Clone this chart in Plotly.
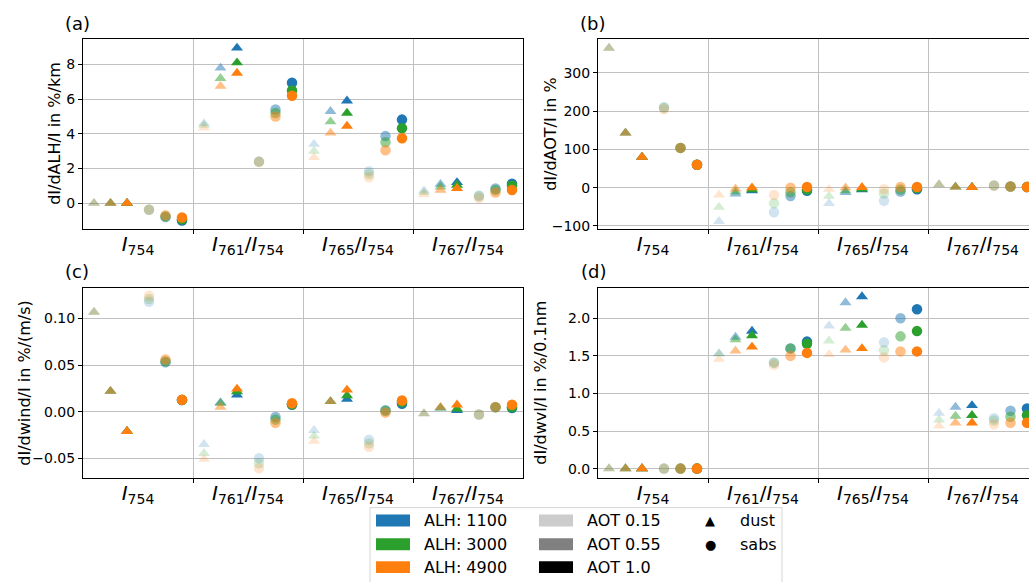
import plotly.graph_objects as go

# ---------------- data ----------------
groups = ["I754", "I761/I754", "I765/I754", "I767/I754"]
group_labels = ["<i>I</i><sub>754</sub>",
                "<i>I</i><sub>761</sub>/<i>I</i><sub>754</sub>",
                "<i>I</i><sub>765</sub>/<i>I</i><sub>754</sub>",
                "<i>I</i><sub>767</sub>/<i>I</i><sub>754</sub>"]
aerosol_types = ["dust", "dust", "dust", "sabs", "sabs", "sabs"]
aot_values = [0.15, 0.55, 1.0, 0.15, 0.55, 1.0]
alh_values = [1100, 3000, 4900]

# each list: per group -> [dust AOT .15, .55, 1.0, sabs AOT .15, .55, 1.0]
a_1100 = [0.0, 0.0, 0.0, -0.38, -0.80, -1.00,
          4.6, 7.8, 8.95, 2.4, 5.4, 6.95,
          3.4, 5.3, 5.9, 1.85, 3.87, 4.82,
          0.72, 1.1, 1.2, 0.45, 0.85, 1.12]
a_3000 = [0.0, 0.0, 0.0, -0.38, -0.76, -0.92,
          4.5, 7.2, 8.1, 2.4, 5.2, 6.5,
          3.0, 4.7, 5.2, 1.68, 3.52, 4.32,
          0.62, 0.95, 1.05, 0.4, 0.76, 1.01]
a_4900 = [0.0, 0.0, 0.0, -0.36, -0.70, -0.82,
          4.35, 6.75, 7.5, 2.38, 5.0, 6.2,
          2.65, 4.05, 4.45, 1.5, 3.05, 3.75,
          0.5, 0.76, 0.86, 0.3, 0.62, 0.76]

b_1100 = [365, 143, 80, 210, 104, 60,
          -88, -16, -8, -64, -22, -8,
          -41, -12, -5, -34, -10, -4,
          8, 2, 1, 6, 3, 2]
b_3000 = [365, 143, 80, 209, 104, 60,
          -51, -10, -5, -41, -12, -5,
          -22, -8, -3, -15, -5, -1,
          8, 2, 1, 6, 3, 2]
b_4900 = [365, 143, 80, 205, 104, 60,
          -19, -3, 0, -19, 0, 2,
          -4, 0, 1, -4, 2, 2,
          8, 2, 1, 5, 3, 2]

c_1100 = [0.107, 0.022, -0.021, 0.118, 0.053, 0.0125,
          -0.035, 0.010, 0.018, -0.050, -0.0057, 0.0075,
          -0.020, 0.011, 0.0134, -0.030, 0.0015, 0.0085,
          -0.002, 0.004, 0.0014, -0.003, 0.0048, 0.004]
c_3000 = [0.107, 0.022, -0.021, 0.121, 0.054, 0.0127,
          -0.0447, 0.009, 0.0216, -0.0553, -0.0085, 0.008,
          -0.026, 0.011, 0.0173, -0.034, 0.001, 0.0105,
          -0.002, 0.004, 0.003, -0.003, 0.0049, 0.005]
c_4900 = [0.107, 0.022, -0.021, 0.1245, 0.056, 0.0128,
          -0.051, 0.005, 0.0245, -0.0606, -0.012, 0.009,
          -0.0316, 0.011, 0.0234, -0.0376, -0.001, 0.012,
          -0.002, 0.005, 0.0074, -0.003, 0.005, 0.0074]

d_1100 = [0, 0, 0, 0, 0, 0,
          1.53, 1.75, 1.83, 1.41, 1.60, 1.69,
          1.90, 2.21, 2.29, 1.68, 2.00, 2.12,
          0.74, 0.82, 0.84, 0.67, 0.77, 0.80]
d_3000 = [0, 0, 0, 0, 0, 0,
          1.53, 1.715, 1.77, 1.41, 1.60, 1.66,
          1.70, 1.87, 1.91, 1.575, 1.76, 1.83,
          0.65, 0.70, 0.71, 0.64, 0.69, 0.71]
d_4900 = [0, 0, 0, 0, 0, 0,
          1.456, 1.566, 1.62, 1.38, 1.50, 1.54,
          1.52, 1.58, 1.60, 1.48, 1.56, 1.56,
          0.57, 0.61, 0.61, 0.59, 0.61, 0.61]

panel_data = {
    "a": [a_1100, a_3000, a_4900],
    "b": [b_1100, b_3000, b_4900],
    "c": [c_1100, c_3000, c_4900],
    "d": [d_1100, d_3000, d_4900],
}
y_titles = {"a": "dI/dALH/I in %/km", "b": "dI/dAOT/I in %",
            "c": "dI/dwind/I in %/(m/s)", "d": "dI/dwvl/I in %/0.1nm"}

# ---------------- style ----------------
W, H = 1029, 582
alh_colors = ["31,119,180", "44,160,44", "255,127,14"]
aot_alpha = {0.15: 0.2, 0.55: 0.5, 1.0: 1.0}
offsets = [0.1, 0.25, 0.4, 0.6, 0.75, 0.9]
FONT = "DejaVu Sans"
GRID = "#c0c0c0"

def px_x(p):
    return p / W

def px_y(p):
    return 1 - p / H

# panel boxes in pixels: (left, right, top, bottom)
boxes = {"a": (83, 523, 39, 231), "b": (598, 1029, 39, 231),
         "c": (83, 523, 290, 482), "d": (598, 1029, 290, 482)}
yranges = {"a": [-1.486, 9.486], "b": [-108, 389.4],
           "c": [-0.071, 0.1333], "d": [-0.123, 2.41]}
ydticks = {"a": 2, "b": 100, "c": 0.05, "d": 0.5}
yfmt = {"a": "d", "b": "d", "c": ".2f", "d": ".1f"}
axis_ids = {"a": ("x", "y"), "b": ("x2", "y2"), "c": ("x3", "y3"), "d": ("x4", "y4")}

fig = go.Figure()
layout = dict(width=W, height=H, margin=dict(l=0, r=0, t=0, b=0),
              paper_bgcolor="white", plot_bgcolor="white", showlegend=False,
              font=dict(family=FONT, color="black", size=14))

for key in ["a", "b", "c", "d"]:
    xa, ya = axis_ids[key]
    for ci, vals in enumerate(panel_data[key]):
        xs, cols, syms = [], [], []
        for g in range(len(groups)):
            for k in range(6):
                xs.append(g + offsets[k])
                cols.append("rgba(%s,%.2f)" % (alh_colors[ci], aot_alpha[aot_values[k]]))
                syms.append("triangle-up" if aerosol_types[k] == "dust" else "circle")
        fig.add_trace(go.Scatter(
            x=xs, y=vals, mode="markers", xaxis=xa, yaxis=ya,
            marker=dict(color=cols, symbol=syms, size=10.5, line=dict(width=0)),
            hoverinfo="skip"))

    l, r, t, b = boxes[key]
    xname = "xaxis" if xa == "x" else "xaxis" + xa[1:]
    yname = "yaxis" if ya == "y" else "yaxis" + ya[1:]
    xmax = (r - l) / 110.0
    full = key in ("a", "c")
    layout[xname] = dict(
        domain=[px_x(l), px_x(r)], range=[0, xmax], anchor=ya,
        tickmode="array", tickvals=[g + 0.5 for g in range(4)], ticktext=group_labels,
        ticks="", showgrid=False, zeroline=False, ticklabelstandoff=-3,
        tickfont=dict(size=20, family=FONT, color="black"),
        showline=True, linecolor="black", linewidth=1, mirror=True,
        minor=dict(tickmode="array", tickvals=[1, 2, 3], ticks="outside", ticklen=4,
                   tickcolor="black", showgrid=True, gridcolor=GRID, gridwidth=1),
    )
    layout[yname] = dict(
        domain=[px_y(b), px_y(t)], range=yranges[key], anchor=xa,
        dtick=ydticks[key], tick0=0, tickformat=yfmt[key],
        ticks="outside", ticklen=4, tickcolor="black",
        showgrid=True, gridcolor=GRID, gridwidth=1, zeroline=False,
        showline=True, linecolor="black", linewidth=1, mirror=full,
        tickfont=dict(size=14, family=FONT, color="black"),
    )

annotations = []
# panel labels
for key, (xp, yp) in {"a": (77, 24), "b": (592, 24), "c": (77, 274), "d": (593, 274)}.items():
    annotations.append(dict(x=px_x(xp), y=px_y(yp), xref="paper", yref="paper",
                            text="(%s)" % key, showarrow=False,
                            font=dict(size=18, family=FONT, color="black"),
                            xanchor="center", yanchor="middle"))
# y-axis titles
for key, xp in {"a": 55, "b": 551, "c": 25, "d": 541}.items():
    l, r, t, b = boxes[key]
    annotations.append(dict(x=px_x(xp), y=px_y((t + b) / 2), xref="paper", yref="paper",
                            text=y_titles[key], showarrow=False, textangle=-90,
                            font=dict(size=16, family=FONT, color="black"),
                            xanchor="center", yanchor="middle"))

shapes = []
# legend box
shapes.append(dict(type="rect", xref="paper", yref="paper",
                   x0=px_x(370), x1=px_x(782), y0=px_y(600), y1=px_y(512),
                   line=dict(color="#d5d5d5", width=1), fillcolor="white"))
rows_y = [525, 549, 572]
alh_labels = ["ALH: %d" % v for v in alh_values]
aot_labels = ["AOT 0.15", "AOT 0.55", "AOT 1.0"]
aot_patch = ["#cccccc", "#808080", "#000000"]
for i, yc in enumerate(rows_y):
    shapes.append(dict(type="rect", xref="paper", yref="paper",
                       x0=px_x(376), x1=px_x(410), y0=px_y(yc + 6), y1=px_y(yc - 6),
                       line=dict(width=0), fillcolor="rgb(%s)" % alh_colors[i]))
    annotations.append(dict(x=px_x(422), y=px_y(yc), xref="paper", yref="paper",
                            text=alh_labels[i], showarrow=False, xanchor="left", yanchor="middle",
                            font=dict(size=16, family=FONT, color="black")))
    shapes.append(dict(type="rect", xref="paper", yref="paper",
                       x0=px_x(539), x1=px_x(573), y0=px_y(yc + 6), y1=px_y(yc - 6),
                       line=dict(width=0), fillcolor=aot_patch[i]))
    annotations.append(dict(x=px_x(585), y=px_y(yc), xref="paper", yref="paper",
                            text=aot_labels[i], showarrow=False, xanchor="left", yanchor="middle",
                            font=dict(size=16, family=FONT, color="black")))
for sym, lab, yc in [("▲", "dust", rows_y[0]), ("●", "sabs", rows_y[1])]:
    annotations.append(dict(x=px_x(710), y=px_y(yc), xref="paper", yref="paper",
                            text=sym, showarrow=False, xanchor="center", yanchor="middle",
                            font=dict(size=13, family=FONT, color="black")))
    annotations.append(dict(x=px_x(738), y=px_y(yc), xref="paper", yref="paper",
                            text=lab, showarrow=False, xanchor="left", yanchor="middle",
                            font=dict(size=16, family=FONT, color="black")))

layout["annotations"] = annotations
layout["shapes"] = shapes
fig.update_layout(**layout)
fig.write_html("out.html", config={"displayModeBar": False},
               post_script="document.body.style.margin='0px';document.body.style.overflow='hidden';")
